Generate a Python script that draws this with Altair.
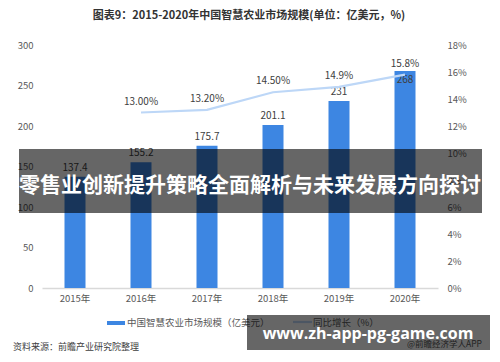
import altair as alt
import pandas as pd

# ---- data ----
years = ["2015年", "2016年", "2017年", "2018年", "2019年", "2020年"]
market = [137.4, 155.2, 175.7, 201.1, 231, 268]
growth_years = ["2016年", "2017年", "2018年", "2019年", "2020年"]
growth = [0.13, 0.132, 0.145, 0.149, 0.158]
growth_labels = ["13.00%", "13.20%", "14.50%", "14.9%", "15.8%"]
left_ticks = [0, 50, 100, 150, 200, 250, 300]
right_ticks = [0, 0.02, 0.04, 0.06, 0.08, 0.10, 0.12, 0.14, 0.16, 0.18]

title_text = "图表9：2015-2020年中国智慧农业市场规模(单位：亿美元，%)"
legend_bar = "中国智慧农业市场规模（亿美元）"
legend_line = "同比增长（%）"
source_text = "资料来源：前瞻产业研究院整理"
banner_text = "零售业创新提升策略全面解析与未来发展方向探讨"
url_text = "www.zh-app-pg-game.com"
app_text = "@前瞻经济学人APP"

bar_df = pd.DataFrame({"year": years, "value": market})
line_df = pd.DataFrame({"year": growth_years, "pct": growth, "label": growth_labels})
one = pd.DataFrame({"k": [0]})

FONT = "Noto Sans CJK SC"
BLUE = "#3d86e2"
LINE = "#bdd7f7"
LABEL = "#595959"

x_enc = alt.X(
    "year:N",
    sort=years,
    scale=alt.Scale(domain=years, paddingInner=0, paddingOuter=0),
    axis=alt.Axis(
        title=None, labelAngle=0, ticks=False, domainColor="#d9d9d9",
        domainWidth=1.5, labelColor=LABEL, labelFont=FONT, labelFontSize=9.5,
        labelPadding=5, grid=False,
    ),
)
left_scale = alt.Scale(domain=[0, 300], nice=False)
right_scale = alt.Scale(domain=[0, 0.18], nice=False)

bars = alt.Chart(bar_df).mark_bar(size=21, color=BLUE).encode(
    x=x_enc,
    y=alt.Y("value:Q", scale=left_scale, axis=alt.Axis(
        orient="left", title=None, values=left_ticks, ticks=False, domain=False,
        grid=False, labelColor=LABEL, labelFont=FONT, labelFontSize=9.5,
        labelPadding=9)),
)

bar_labels = alt.Chart(bar_df).transform_filter(
    alt.datum.year != "2020年"
).mark_text(baseline="bottom", dy=-4, fontSize=10, font=FONT, color="#404040").encode(
    x=x_enc, y=alt.Y("value:Q", scale=left_scale, axis=None), text="value:Q"
)
bar_label_last = alt.Chart(bar_df).transform_filter(
    alt.datum.year == "2020年"
).mark_text(baseline="top", dy=4, fontSize=10, font=FONT, color="#404040").encode(
    x=x_enc, y=alt.Y("value:Q", scale=left_scale, axis=None), text="value:Q"
)

line = alt.Chart(line_df).mark_line(color=LINE, strokeWidth=2.2).encode(
    x=x_enc,
    y=alt.Y("pct:Q", scale=right_scale, axis=alt.Axis(
        orient="right", title=None, values=right_ticks, format=".0%", ticks=False,
        domain=False, grid=False, labelColor=LABEL, labelFont=FONT,
        labelFontSize=9.5, labelPadding=9)),
)
line_labels = alt.Chart(line_df).mark_text(
    baseline="bottom", dy=-6, fontSize=10, font=FONT, color="#404040"
).encode(x=x_enc, y=alt.Y("pct:Q", scale=right_scale, axis=None), text="label:N")


def txt(text, x, y, **kw):
    return alt.Chart(one).mark_text(text=text, font=FONT, **kw).encode(
        x=alt.value(x), y=alt.value(y))


title = txt(title_text, 207, -29, fontSize=11, fontWeight="bold", color="#333333",
            align="center", baseline="middle")
leg_rect = alt.Chart(one).mark_rect(color=BLUE).encode(
    x=alt.value(65), x2=alt.value(83), y=alt.value(276), y2=alt.value(280))
leg_t1 = txt(legend_bar, 85, 278, fontSize=9.5, color=LABEL, align="left", baseline="middle")
leg_rule = alt.Chart(one).mark_rule(color=LINE, strokeWidth=2.2).encode(
    x=alt.value(251), x2=alt.value(270), y=alt.value(277))
leg_t2 = txt(legend_line, 271, 278, fontSize=9.5, color=LABEL, align="left", baseline="middle")
source = txt(source_text, -29, 302, fontSize=9, color="#404040", align="left", baseline="middle")
app = txt(app_text, 365, 299, fontSize=8.5, color="#555555", align="left", baseline="middle")

banner = alt.Chart(one).mark_rect(color="#000000", opacity=0.6).encode(
    x=alt.value(-23), x2=alt.value(440), y=alt.value(104), y2=alt.value(168))
banner_t = txt(banner_text, 208, 141, fontSize=21, fontWeight="bold", color="#ffffff",
               align="center", baseline="middle")
box = alt.Chart(one).mark_rect(color="#000000", opacity=0.6).encode(
    x=alt.value(205), x2=alt.value(448), y=alt.value(270), y2=alt.value(305))
url = alt.Chart(one).mark_text(
    text=url_text, font="Open Sans", fontSize=16, fontWeight="bold", color="#ffffff",
    align="center", baseline="alphabetic").encode(x=alt.value(326), y=alt.value(294))

chart = alt.layer(
    bars, bar_labels, bar_label_last, line, line_labels,
    title, leg_rect, leg_t1, leg_rule, leg_t2, source, app,
    banner, banner_t, box, url,
).resolve_scale(y="independent").properties(
    width=396, height=243,
    autosize=alt.AutoSizeParams(type="none"),
    padding={"left": 34, "right": 54, "top": 37, "bottom": 66},
    background="#ffffff",
).configure_view(stroke=None)

chart.save("out.html", embed_options={"renderer": "svg", "actions": False})
